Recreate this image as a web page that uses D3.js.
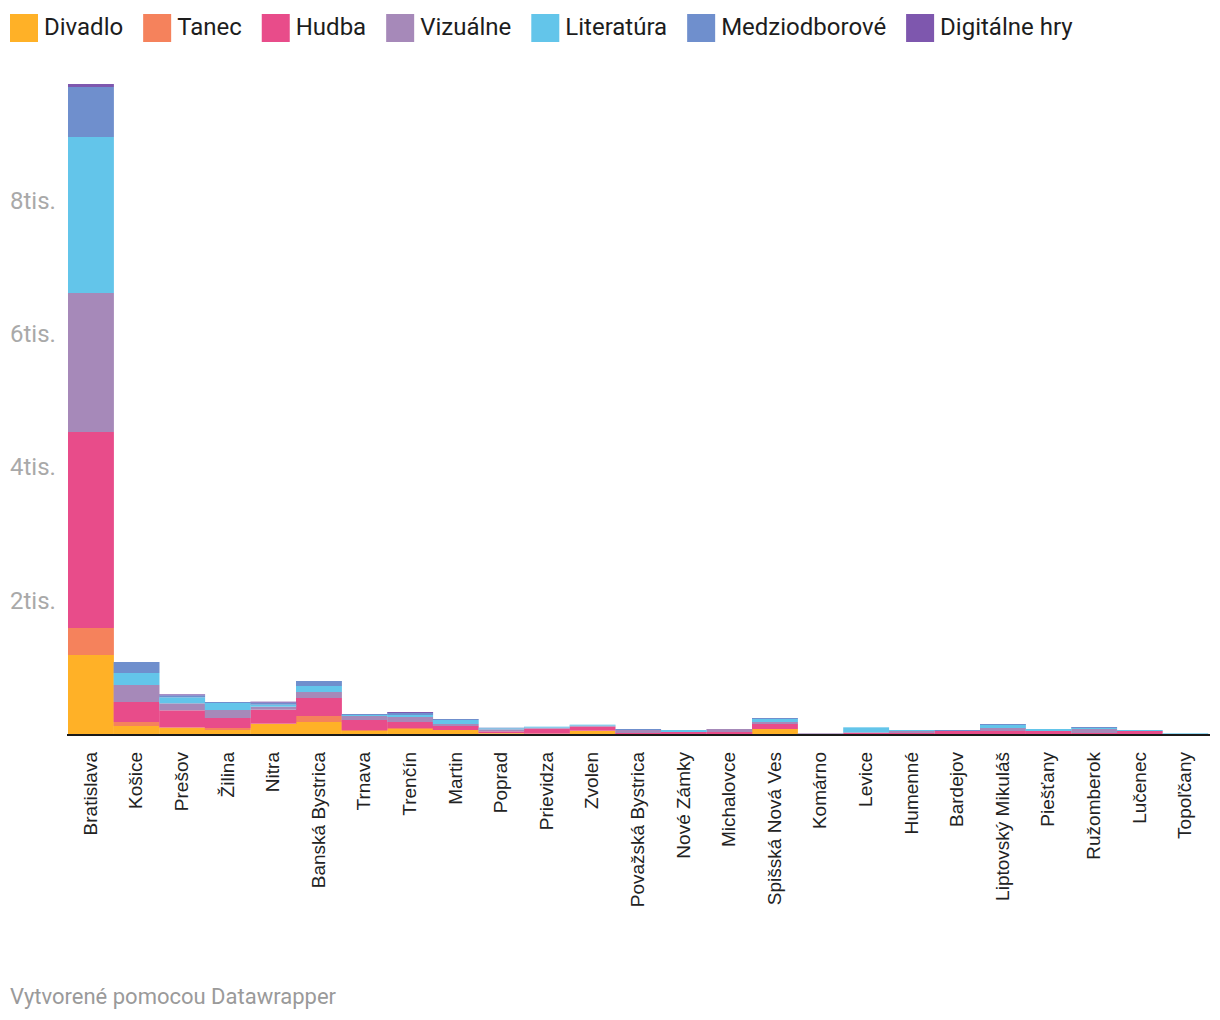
<!DOCTYPE html>
<html><head><meta charset="utf-8">
<script src="https://cdn.jsdelivr.net/npm/d3@7"></script>
<style>
body{margin:0;background:#fff;}
svg{display:block;}
</style></head>
<body>
<svg id="chart" width="1220" height="1020"></svg>
<script>
const categories = ["Bratislava","Košice","Prešov","Žilina","Nitra","Banská Bystrica","Trnava","Trenčín","Martin","Poprad","Prievidza","Zvolen","Považská Bystrica","Nové Zámky","Michalovce","Spišská Nová Ves","Komárno","Levice","Humenné","Bardejov","Liptovský Mikuláš","Piešťany","Ružomberok","Lučenec","Topoľčany"];
const seriesNames = ["Divadlo","Tanec","Hudba","Vizuálne","Literatúra","Medziodborové","Digitálne hry"];
const colors = ["#ffb127","#f5825c","#e84c8a","#a689b9","#63c5ea","#6f8fcd","#7e57ae"];
const divadlo =      [1185,120, 90, 60,150,180, 45, 75, 60,10, 5, 45, 0, 0, 0, 75, 0, 0, 0, 0, 0, 0, 0, 0, 0];
const tanec =        [ 405, 60, 10, 30,  5, 90, 15, 15,  0, 5, 0,  5, 0, 0, 0,  0, 0, 0, 0, 0, 0, 0, 0, 0, 0];
const hudba =        [2940,300,255,150,210,270,150, 90, 60,25,75, 60,15,30,30, 75, 0,15,15,45,45,45,15,45, 0];
const vizualne =     [2085,255,105,120, 45, 90, 60, 75, 30,30,15, 15,45, 0,45, 30,10,10,30, 0,45, 0,60, 0, 0];
const literatura =   [2340,180, 90,105, 30, 90, 15, 30, 60,15,15, 15, 0,30, 0, 45, 0,75,15, 0,45,30,15,15,10];
const medziodborove =[ 750,165, 30, 15, 30, 75, 15, 30, 15,10, 0,  0,15, 0, 0, 15, 0, 0, 0,15,15, 0,15, 0, 0];
const digitalne =    [  45,  0, 15,  0, 15,  0,  0, 15,  0, 0, 0,  0, 0, 0, 0,  0, 0, 0, 0, 0, 0, 0, 0, 0, 0];
const yTicks = [2000,4000,6000,8000];
const yTickLabels = ["2tis.","4tis.","6tis.","8tis."];

const seriesData = [divadlo,tanec,hudba,vizualne,literatura,medziodborove,digitalne];
const rows = categories.map((c,i)=>{const r={city:c}; seriesNames.forEach((s,j)=>r[s]=seriesData[j][i]); return r;});
const stack = d3.stack().keys(seriesNames)(rows);

const svg = d3.select("#chart");
const x = d3.scaleBand().domain(categories).range([68,1208]).paddingInner(0).paddingOuter(0);
const y = d3.scaleLinear().domain([0,9750]).range([734,84]);

// bars
svg.append("g").selectAll("g").data(stack).join("g")
  .attr("fill",(d,i)=>colors[i])
  .selectAll("rect").data(d=>d).join("rect")
  .attr("x",d=>x(d.data.city))
  .attr("width",x.bandwidth()+0.3)
  .attr("y",d=>y(d[1]))
  .attr("height",d=>Math.max(0,y(d[0])-y(d[1])));

// baseline
svg.append("line").attr("x1",67).attr("x2",1210).attr("y1",y(0)+1).attr("y2",y(0)+1)
  .attr("stroke","#1a1a1a").attr("stroke-width",2);

// y labels
svg.append("g").selectAll("text").data(yTicks).join("text")
  .attr("x",10).attr("y",d=>y(d)+8)
  .attr("font-family","Roboto").attr("font-size",24).attr("fill","#a9a9a9")
  .text((d,i)=>yTickLabels[i]);

// x labels
svg.append("g").selectAll("text").data(categories).join("text")
  .attr("transform",d=>`translate(${x(d)+x.bandwidth()/2+6},752) rotate(-90)`)
  .attr("text-anchor","end")
  .attr("font-family","Liberation Sans, Arial").attr("font-size",19).attr("fill","#222")
  .text(d=>d);

// legend
const lg = svg.append("g");
let lx = 10;
seriesNames.forEach((s,i)=>{
  lg.append("rect").attr("x",lx).attr("y",14).attr("width",28).attr("height",28).attr("fill",colors[i]);
  const t = lg.append("text").attr("x",lx+34).attr("y",35)
    .attr("font-family","Roboto").attr("font-size",24).attr("fill","#1d1d1d").text(s);
  lx += 34 + t.node().getComputedTextLength() + 20;
});

// footer
svg.append("text").attr("x",10).attr("y",1004).attr("font-family","Roboto").attr("font-size",22)
  .attr("fill","#9a9a9a").text("Vytvorené pomocou Datawrapper");
</script>
</body></html>
